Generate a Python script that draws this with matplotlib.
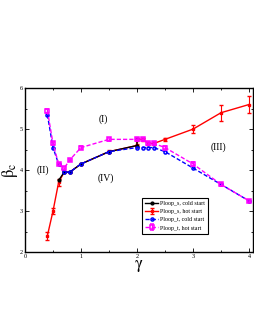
import matplotlib
matplotlib.use("Agg")
import matplotlib.pyplot as plt
from matplotlib.ticker import MultipleLocator

plt.rcParams['font.family'] = ['Liberation Serif', 'DejaVu Serif']
plt.rcParams['mathtext.fontset'] = 'stix'

# Ploop_s, cold start
s_cold_x = [0.6, 0.7, 0.8, 1.0, 1.5, 2.0, 2.0]
s_cold_y = [3.75, 3.95, 3.95, 4.15, 4.45, 4.6, 4.75]

# Ploop_s, hot start
s_hot_x = [0.4, 0.5, 0.6, 0.7, 0.8, 1.0, 1.5, 2.0, 2.0, 2.1, 2.2, 2.3, 2.5, 3.0, 3.5, 4.0]
s_hot_y = [2.4, 3.0, 3.7, 3.95, 3.95, 4.15, 4.45, 4.6, 4.75, 4.75, 4.65, 4.65, 4.75, 5.0, 5.4, 5.6]
s_hot_err = [0.1, 0.08, 0.08, 0.03, 0.03, 0.03, 0.03, 0.03, 0.03, 0.03, 0.03, 0.03, 0.04, 0.1, 0.2, 0.2]

# Ploop_t, cold start
t_cold_x = [0.4, 0.5, 0.6, 0.7, 0.8, 1.0, 1.5, 2.0, 2.1, 2.2, 2.3, 2.5, 3.0, 3.5, 4.0]
t_cold_y = [5.35, 4.55, 4.15, 3.95, 3.95, 4.15, 4.45, 4.55, 4.55, 4.55, 4.55, 4.45, 4.05, 3.65, 3.25]

# Ploop_t, hot start
t_hot_x = [0.4, 0.5, 0.6, 0.7, 0.8, 1.0, 1.5, 2.0, 2.1, 2.2, 2.3, 2.5, 3.0, 3.5, 4.0]
t_hot_y = [5.45, 4.65, 4.15, 4.05, 4.25, 4.55, 4.75, 4.75, 4.75, 4.65, 4.65, 4.55, 4.15, 3.65, 3.25]
t_hot_err = [0.05, 0.04, 0.03, 0.03, 0.03, 0.03, 0.03, 0.03, 0.03, 0.03, 0.03, 0.03, 0.04, 0.03, 0.03]

regions = [("(I)", 1.4, 5.25), ("(II)", 0.32, 4.0), ("(III)", 3.45, 4.55), ("(IV)", 1.45, 3.8)]

fig = plt.figure(figsize=(2.55, 3.3), dpi=100)
ax = fig.add_axes([0.098, 0.236, 0.894, 0.497])

h_shot = ax.errorbar(s_hot_x, s_hot_y, yerr=s_hot_err, color='red', marker='s', ms=2,
                     lw=1, elinewidth=0.8, capsize=1.5, zorder=2)
h_scold, = ax.plot(s_cold_x, s_cold_y, color='black', marker='o', ms=2, lw=1, zorder=3)
h_tcold, = ax.plot(t_cold_x, t_cold_y, color='blue', marker='o', ms=2.2, mfc='none', mew=1.1,
                   lw=1, ls='--', dashes=(3, 1.5), zorder=4)
h_thot = ax.errorbar(t_hot_x, t_hot_y, yerr=t_hot_err, color='magenta', marker='s', ms=2.2,
                     mfc='none', mew=1.1, lw=1, ls='--', dashes=(3, 1.5), elinewidth=0.8,
                     capsize=1.5, zorder=5)

for txt, x, y in regions:
    ax.text(x, y, txt, fontsize=7, ha='center', va='center')

ax.set_xlim(0, 4.07)
ax.set_ylim(2, 6)
ax.xaxis.set_major_locator(MultipleLocator(1))
ax.xaxis.set_minor_locator(MultipleLocator(0.5))
ax.yaxis.set_major_locator(MultipleLocator(1))
ax.yaxis.set_minor_locator(MultipleLocator(0.5))
ax.tick_params(which='both', direction='in', top=True, right=True, labelsize=4.5,
               width=0.6, pad=1.5)
ax.tick_params(which='major', length=3)
ax.tick_params(which='minor', length=1.5)
for sp in ax.spines.values():
    sp.set_linewidth(1)

ax.set_xlabel(r'$\mathrm{\gamma}$', fontsize=12, labelpad=-1)
ax.set_ylabel(r'$\mathrm{\beta_c}$', fontsize=12, labelpad=0)

leg = ax.legend([h_scold, h_shot, h_tcold, h_thot],
                ['Ploop_s, cold start', 'Ploop_s, hot start',
                 'Ploop_t, cold start', 'Ploop_t, hot start'],
                loc='lower left', bbox_to_anchor=(0.5, 0.095), fontsize=4.3,
                frameon=True, fancybox=False, edgecolor='black', framealpha=1,
                handlelength=2.2, borderpad=0.5, labelspacing=0.5, handletextpad=0.4)
leg.get_frame().set_linewidth(0.8)

fig.savefig('out.png', dpi=100)
